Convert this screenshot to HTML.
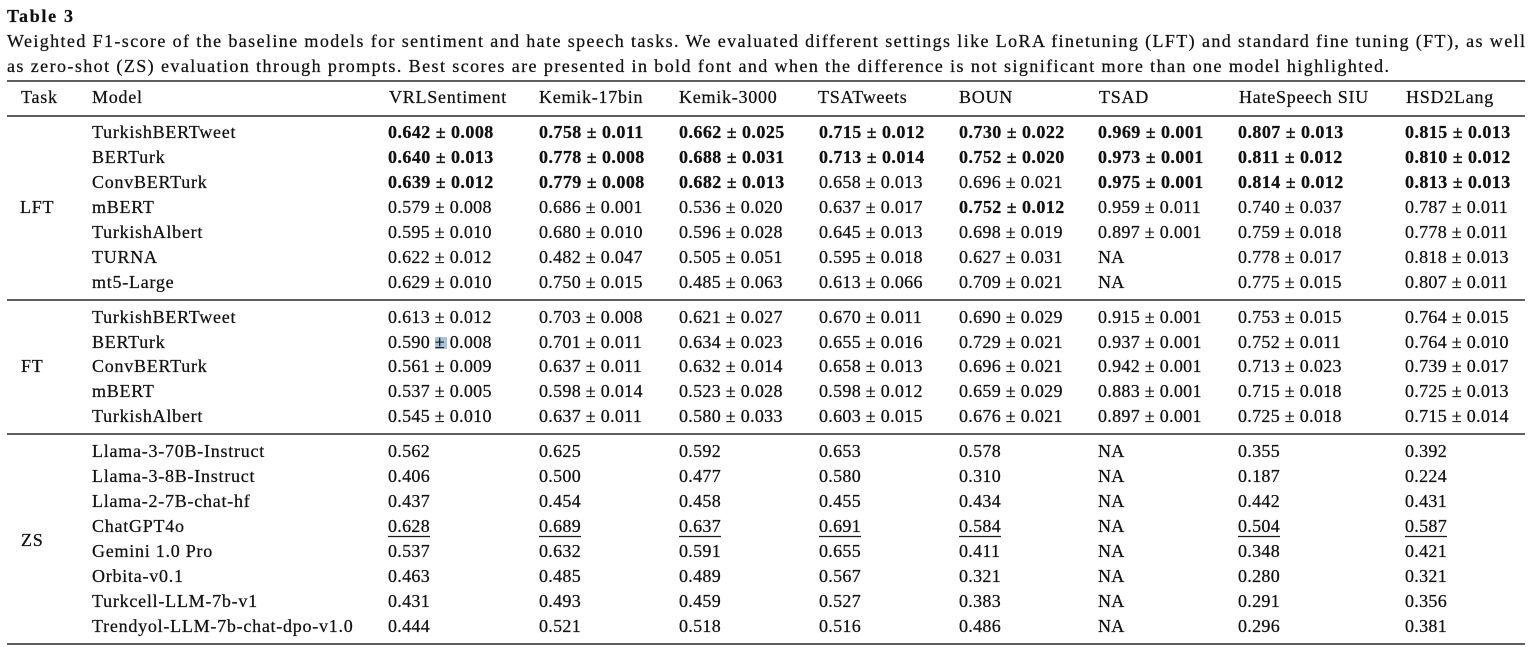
<!DOCTYPE html>
<html><head><meta charset="utf-8">
<style>
html,body{margin:0;padding:0;background:#fff;}
svg{display:block;}
text{font-family:"Liberation Serif","DejaVu Serif",serif;font-size:18px;fill:#111;stroke:#111;stroke-width:0.25px;}
.n{letter-spacing:0.75px;}
.v{letter-spacing:0.3px;}
.b{font-weight:bold;letter-spacing:0.45px;}
</style></head>
<body>
<svg width="1532" height="647" viewBox="0 0 1532 647" xmlns="http://www.w3.org/2000/svg">
<rect width="1532" height="647" fill="#fff"/>
<text x="7" y="22" font-weight="bold" textLength="66" lengthAdjust="spacing">Table 3</text>
<text x="7" y="47" textLength="1518" lengthAdjust="spacing">Weighted F1-score of the baseline models for sentiment and hate speech tasks. We evaluated different settings like LoRA finetuning (LFT) and standard fine tuning (FT), as well</text>
<text x="7" y="72" textLength="1382" lengthAdjust="spacing">as zero-shot (ZS) evaluation through prompts. Best scores are presented in bold font and when the difference is not significant more than one model highlighted.</text>

<g stroke="#2a2a2a" stroke-width="1.5">
<line x1="7" y1="81" x2="1525" y2="81"/>
<line x1="7" y1="116" x2="1525" y2="116"/>
<line x1="7" y1="300" x2="1525" y2="300"/>
<line x1="7" y1="434" x2="1525" y2="434"/>
<line x1="7" y1="644" x2="1525" y2="644"/>
</g>

<text y="103" class="n"><tspan x="21">Task</tspan><tspan x="92">Model</tspan><tspan x="389">VRLSentiment</tspan><tspan x="539">Kemik-17bin</tspan><tspan x="679">Kemik-3000</tspan><tspan x="818">TSATweets</tspan><tspan x="959">BOUN</tspan><tspan x="1099">TSAD</tspan><tspan x="1239">HateSpeech SIU</tspan><tspan x="1406">HSD2Lang</tspan></text>

<!-- LFT -->
<text x="20" y="213" class="n">LFT</text>
<text y="138"><tspan x="92" class="n">TurkishBERTweet</tspan><tspan x="388" class="b">0.642 ± 0.008</tspan><tspan x="539" class="b">0.758 ± 0.011</tspan><tspan x="679" class="b">0.662 ± 0.025</tspan><tspan x="819" class="b">0.715 ± 0.012</tspan><tspan x="959" class="b">0.730 ± 0.022</tspan><tspan x="1098" class="b">0.969 ± 0.001</tspan><tspan x="1238" class="b">0.807 ± 0.013</tspan><tspan x="1405" class="b">0.815 ± 0.013</tspan></text>
<text y="163"><tspan x="92" class="n">BERTurk</tspan><tspan x="388" class="b">0.640 ± 0.013</tspan><tspan x="539" class="b">0.778 ± 0.008</tspan><tspan x="679" class="b">0.688 ± 0.031</tspan><tspan x="819" class="b">0.713 ± 0.014</tspan><tspan x="959" class="b">0.752 ± 0.020</tspan><tspan x="1098" class="b">0.973 ± 0.001</tspan><tspan x="1238" class="b">0.811 ± 0.012</tspan><tspan x="1405" class="b">0.810 ± 0.012</tspan></text>
<text y="188"><tspan x="92" class="n">ConvBERTurk</tspan><tspan x="388" class="b">0.639 ± 0.012</tspan><tspan x="539" class="b">0.779 ± 0.008</tspan><tspan x="679" class="b">0.682 ± 0.013</tspan><tspan x="819" class="v">0.658 ± 0.013</tspan><tspan x="959" class="v">0.696 ± 0.021</tspan><tspan x="1098" class="b">0.975 ± 0.001</tspan><tspan x="1238" class="b">0.814 ± 0.012</tspan><tspan x="1405" class="b">0.813 ± 0.013</tspan></text>
<text y="213"><tspan x="92" class="n">mBERT</tspan><tspan x="388" class="v">0.579 ± 0.008</tspan><tspan x="539" class="v">0.686 ± 0.001</tspan><tspan x="679" class="v">0.536 ± 0.020</tspan><tspan x="819" class="v">0.637 ± 0.017</tspan><tspan x="959" class="b">0.752 ± 0.012</tspan><tspan x="1098" class="v">0.959 ± 0.011</tspan><tspan x="1238" class="v">0.740 ± 0.037</tspan><tspan x="1405" class="v">0.787 ± 0.011</tspan></text>
<text y="238"><tspan x="92" class="n">TurkishAlbert</tspan><tspan x="388" class="v">0.595 ± 0.010</tspan><tspan x="539" class="v">0.680 ± 0.010</tspan><tspan x="679" class="v">0.596 ± 0.028</tspan><tspan x="819" class="v">0.645 ± 0.013</tspan><tspan x="959" class="v">0.698 ± 0.019</tspan><tspan x="1098" class="v">0.897 ± 0.001</tspan><tspan x="1238" class="v">0.759 ± 0.018</tspan><tspan x="1405" class="v">0.778 ± 0.011</tspan></text>
<text y="263"><tspan x="92" class="n">TURNA</tspan><tspan x="388" class="v">0.622 ± 0.012</tspan><tspan x="539" class="v">0.482 ± 0.047</tspan><tspan x="679" class="v">0.505 ± 0.051</tspan><tspan x="819" class="v">0.595 ± 0.018</tspan><tspan x="959" class="v">0.627 ± 0.031</tspan><tspan x="1098" class="v">NA</tspan><tspan x="1238" class="v">0.778 ± 0.017</tspan><tspan x="1405" class="v">0.818 ± 0.013</tspan></text>
<text y="288"><tspan x="92" class="n">mt5-Large</tspan><tspan x="388" class="v">0.629 ± 0.010</tspan><tspan x="539" class="v">0.750 ± 0.015</tspan><tspan x="679" class="v">0.485 ± 0.063</tspan><tspan x="819" class="v">0.613 ± 0.066</tspan><tspan x="959" class="v">0.709 ± 0.021</tspan><tspan x="1098" class="v">NA</tspan><tspan x="1238" class="v">0.775 ± 0.015</tspan><tspan x="1405" class="v">0.807 ± 0.011</tspan></text>

<!-- FT -->
<rect x="435" y="337" width="12" height="12" fill="#a9c3da"/>
<text x="21" y="372" class="n">FT</text>
<text y="323"><tspan x="92" class="n">TurkishBERTweet</tspan><tspan x="388" class="v">0.613 ± 0.012</tspan><tspan x="539" class="v">0.703 ± 0.008</tspan><tspan x="679" class="v">0.621 ± 0.027</tspan><tspan x="819" class="v">0.670 ± 0.011</tspan><tspan x="959" class="v">0.690 ± 0.029</tspan><tspan x="1098" class="v">0.915 ± 0.001</tspan><tspan x="1238" class="v">0.753 ± 0.015</tspan><tspan x="1405" class="v">0.764 ± 0.015</tspan></text>
<text y="348"><tspan x="92" class="n">BERTurk</tspan><tspan x="388" class="v">0.590 ± 0.008</tspan><tspan x="539" class="v">0.701 ± 0.011</tspan><tspan x="679" class="v">0.634 ± 0.023</tspan><tspan x="819" class="v">0.655 ± 0.016</tspan><tspan x="959" class="v">0.729 ± 0.021</tspan><tspan x="1098" class="v">0.937 ± 0.001</tspan><tspan x="1238" class="v">0.752 ± 0.011</tspan><tspan x="1405" class="v">0.764 ± 0.010</tspan></text>
<text y="372"><tspan x="92" class="n">ConvBERTurk</tspan><tspan x="388" class="v">0.561 ± 0.009</tspan><tspan x="539" class="v">0.637 ± 0.011</tspan><tspan x="679" class="v">0.632 ± 0.014</tspan><tspan x="819" class="v">0.658 ± 0.013</tspan><tspan x="959" class="v">0.696 ± 0.021</tspan><tspan x="1098" class="v">0.942 ± 0.001</tspan><tspan x="1238" class="v">0.713 ± 0.023</tspan><tspan x="1405" class="v">0.739 ± 0.017</tspan></text>
<text y="397"><tspan x="92" class="n">mBERT</tspan><tspan x="388" class="v">0.537 ± 0.005</tspan><tspan x="539" class="v">0.598 ± 0.014</tspan><tspan x="679" class="v">0.523 ± 0.028</tspan><tspan x="819" class="v">0.598 ± 0.012</tspan><tspan x="959" class="v">0.659 ± 0.029</tspan><tspan x="1098" class="v">0.883 ± 0.001</tspan><tspan x="1238" class="v">0.715 ± 0.018</tspan><tspan x="1405" class="v">0.725 ± 0.013</tspan></text>
<text y="422"><tspan x="92" class="n">TurkishAlbert</tspan><tspan x="388" class="v">0.545 ± 0.010</tspan><tspan x="539" class="v">0.637 ± 0.011</tspan><tspan x="679" class="v">0.580 ± 0.033</tspan><tspan x="819" class="v">0.603 ± 0.015</tspan><tspan x="959" class="v">0.676 ± 0.021</tspan><tspan x="1098" class="v">0.897 ± 0.001</tspan><tspan x="1238" class="v">0.725 ± 0.018</tspan><tspan x="1405" class="v">0.715 ± 0.014</tspan></text>

<!-- ZS -->
<text x="21" y="546" class="n">ZS</text>
<text y="457"><tspan x="92" class="n">Llama-3-70B-Instruct</tspan><tspan x="388" class="v">0.562</tspan><tspan x="539" class="v">0.625</tspan><tspan x="679" class="v">0.592</tspan><tspan x="819" class="v">0.653</tspan><tspan x="959" class="v">0.578</tspan><tspan x="1098" class="v">NA</tspan><tspan x="1238" class="v">0.355</tspan><tspan x="1405" class="v">0.392</tspan></text>
<text y="482"><tspan x="92" class="n">Llama-3-8B-Instruct</tspan><tspan x="388" class="v">0.406</tspan><tspan x="539" class="v">0.500</tspan><tspan x="679" class="v">0.477</tspan><tspan x="819" class="v">0.580</tspan><tspan x="959" class="v">0.310</tspan><tspan x="1098" class="v">NA</tspan><tspan x="1238" class="v">0.187</tspan><tspan x="1405" class="v">0.224</tspan></text>
<text y="507"><tspan x="92" class="n">Llama-2-7B-chat-hf</tspan><tspan x="388" class="v">0.437</tspan><tspan x="539" class="v">0.454</tspan><tspan x="679" class="v">0.458</tspan><tspan x="819" class="v">0.455</tspan><tspan x="959" class="v">0.434</tspan><tspan x="1098" class="v">NA</tspan><tspan x="1238" class="v">0.442</tspan><tspan x="1405" class="v">0.431</tspan></text>
<text y="532"><tspan x="92" class="n">ChatGPT4o</tspan><tspan x="388" class="v">0.628</tspan><tspan x="539" class="v">0.689</tspan><tspan x="679" class="v">0.637</tspan><tspan x="819" class="v">0.691</tspan><tspan x="959" class="v">0.584</tspan><tspan x="1098" class="v">NA</tspan><tspan x="1238" class="v">0.504</tspan><tspan x="1405" class="v">0.587</tspan></text>
<g stroke="#1a1a1a" stroke-width="1.2">
<line x1="388" y1="536.5" x2="430" y2="536.5"/>
<line x1="539" y1="536.5" x2="581" y2="536.5"/>
<line x1="679" y1="536.5" x2="721" y2="536.5"/>
<line x1="819" y1="536.5" x2="861" y2="536.5"/>
<line x1="959" y1="536.5" x2="1001" y2="536.5"/>
<line x1="1238" y1="536.5" x2="1280" y2="536.5"/>
<line x1="1405" y1="536.5" x2="1447" y2="536.5"/>
</g>
<text y="557"><tspan x="92" class="n">Gemini  1.0  Pro</tspan><tspan x="388" class="v">0.537</tspan><tspan x="539" class="v">0.632</tspan><tspan x="679" class="v">0.591</tspan><tspan x="819" class="v">0.655</tspan><tspan x="959" class="v">0.411</tspan><tspan x="1098" class="v">NA</tspan><tspan x="1238" class="v">0.348</tspan><tspan x="1405" class="v">0.421</tspan></text>
<text y="582"><tspan x="92" class="n">Orbita-v0.1</tspan><tspan x="388" class="v">0.463</tspan><tspan x="539" class="v">0.485</tspan><tspan x="679" class="v">0.489</tspan><tspan x="819" class="v">0.567</tspan><tspan x="959" class="v">0.321</tspan><tspan x="1098" class="v">NA</tspan><tspan x="1238" class="v">0.280</tspan><tspan x="1405" class="v">0.321</tspan></text>
<text y="607"><tspan x="92" class="n">Turkcell-LLM-7b-v1</tspan><tspan x="388" class="v">0.431</tspan><tspan x="539" class="v">0.493</tspan><tspan x="679" class="v">0.459</tspan><tspan x="819" class="v">0.527</tspan><tspan x="959" class="v">0.383</tspan><tspan x="1098" class="v">NA</tspan><tspan x="1238" class="v">0.291</tspan><tspan x="1405" class="v">0.356</tspan></text>
<text y="632"><tspan x="92" class="n">Trendyol-LLM-7b-chat-dpo-v1.0</tspan><tspan x="388" class="v">0.444</tspan><tspan x="539" class="v">0.521</tspan><tspan x="679" class="v">0.518</tspan><tspan x="819" class="v">0.516</tspan><tspan x="959" class="v">0.486</tspan><tspan x="1098" class="v">NA</tspan><tspan x="1238" class="v">0.296</tspan><tspan x="1405" class="v">0.381</tspan></text>
</svg>
</body></html>
